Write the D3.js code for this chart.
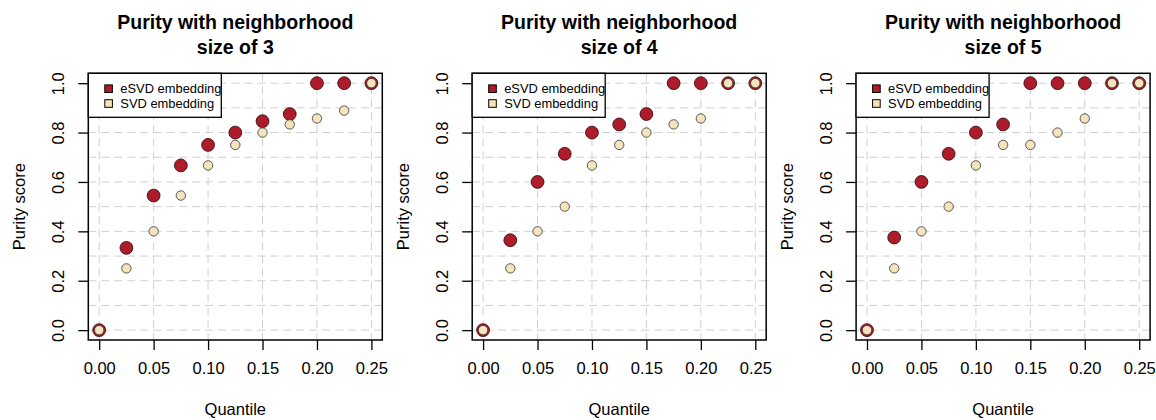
<!DOCTYPE html>
<html><head><meta charset="utf-8">
<script src="https://cdn.jsdelivr.net/npm/d3@7/dist/d3.min.js"></script>
<style>body{margin:0;background:#fff;} text{font-family:"Liberation Sans",Arial,Helvetica,sans-serif;}</style>
</head><body>
<svg id="c" width="1156" height="420"></svg>
<script>
const quantiles = [0, 0.025, 0.05, 0.075, 0.1, 0.125, 0.15, 0.175, 0.2, 0.225, 0.25];
const titles = ["size of 3", "size of 4", "size of 5"];
const esvd3 = [0, 0.333, 0.545, 0.667, 0.75, 0.8, 0.846, 0.875, 1, 1, 1];
const svd3  = [0, 0.25, 0.4, 0.545, 0.667, 0.75, 0.8, 0.833, 0.857, 0.889, 1];
const esvd4 = [0, 0.364, 0.6, 0.714, 0.8, 0.833, 0.875, 1, 1, 1, 1];
const svd4  = [0, 0.25, 0.4, 0.5, 0.667, 0.75, 0.8, 0.833, 0.857, 1, 1];
const esvd5 = [0, 0.375, 0.6, 0.714, 0.8, 0.833, 1, 1, 1, 1, 1];
const svd5  = [0, 0.25, 0.4, 0.5, 0.667, 0.75, 0.75, 0.8, 0.857, 1, 1];
const xTicks = [0, 0.05, 0.10, 0.15, 0.20, 0.25];
const yTicks = [0, 0.2, 0.4, 0.6, 0.8, 1.0];
const seriesNames = ["eSVD embedding", "SVD embedding"];
const colors = ["#ae1c2c", "#f3e4bb"];

const panels = [
  {sub: titles[0], e: esvd3, s: svd3},
  {sub: titles[1], e: esvd4, s: svd4},
  {sub: titles[2], e: esvd5, s: svd5}
];

const svg = d3.select("#c");
const boxW = 294, boxH = 266.7, boxTop = 73.3;
const pitch = 383.9, boxLeft0 = 88.3;

panels.forEach((p, i) => {
  const L = boxLeft0 + i * pitch, R = L + boxW, T = boxTop, B = T + boxH;
  const x = d3.scaleLinear().domain([-0.01, 0.26]).range([L, R]);
  const y = d3.scaleLinear().domain([-0.04, 1.04]).range([B, T]);
  const g = svg.append("g");

  // grid
  const gx = d3.range(0, 0.2501, 0.05);
  const gy = d3.range(0, 1.0001, 0.1);
  g.selectAll(".vg").data(gx).enter().append("line")
    .attr("x1", d => x(d)).attr("x2", d => x(d)).attr("y1", T).attr("y2", B)
    .attr("stroke", "#d0d0d0").attr("stroke-width", 1).attr("stroke-dasharray", "8,5");
  g.selectAll(".hg").data(gy).enter().append("line")
    .attr("x1", L).attr("x2", R).attr("y1", d => y(d)).attr("y2", d => y(d))
    .attr("stroke", "#d0d0d0").attr("stroke-width", 1).attr("stroke-dasharray", "8,5");

  // axes
  const xa = g.append("g").attr("transform", `translate(0,${B})`)
    .call(d3.axisBottom(x).tickValues(xTicks).tickFormat(d3.format(".2f")).tickSize(10).tickPadding(12));
  xa.select(".domain").remove();
  xa.selectAll("line").attr("stroke", "#000").attr("stroke-width", 1.3);
  xa.selectAll("text").attr("font-size", 16.5).attr("fill", "#000").attr("font-family", "Liberation Sans, Arial, sans-serif");

  const ya = g.append("g").attr("transform", `translate(${L},0)`)
    .call(d3.axisLeft(y).tickValues(yTicks).tickFormat(d3.format(".1f")).tickSize(10).tickPadding(0));
  ya.select(".domain").remove();
  ya.selectAll("line").attr("stroke", "#000").attr("stroke-width", 1.3);
  ya.selectAll("text").attr("font-size", 16.5).attr("fill", "#000")
    .attr("font-family", "Liberation Sans, Arial, sans-serif")
    .attr("text-anchor", "middle").attr("x", null)
    .attr("transform", "translate(-30,0) rotate(-90)").attr("dy", "0.35em");

  // box
  g.append("rect").attr("x", L).attr("y", T).attr("width", boxW).attr("height", boxH)
    .attr("fill", "none").attr("stroke", "#000").attr("stroke-width", 1.5);

  // points
  g.selectAll(".pe").data(quantiles.map((q, k) => [q, p.e[k]])).enter().append("circle")
    .attr("cx", d => x(d[0])).attr("cy", d => y(d[1])).attr("r", 6.4)
    .attr("fill", colors[0]).attr("stroke", "#3a1010").attr("stroke-width", 0.9);
  g.selectAll(".ps").data(quantiles.map((q, k) => [q, p.s[k]])).enter().append("circle")
    .attr("cx", d => x(d[0])).attr("cy", d => y(d[1])).attr("r", 4.7)
    .attr("fill", colors[1]).attr("stroke", "#333").attr("stroke-width", 0.8);

  // titles
  const cx = (L + R) / 2;
  g.append("text").attr("x", cx).attr("y", 28.5).attr("text-anchor", "middle")
    .attr("font-size", 19.5).attr("font-weight", "bold").text("Purity with neighborhood");
  g.append("text").attr("x", cx).attr("y", 53.5).attr("text-anchor", "middle")
    .attr("font-size", 19.5).attr("font-weight", "bold").text(p.sub);
  g.append("text").attr("x", cx).attr("y", 415).attr("text-anchor", "middle")
    .attr("font-size", 16.5).text("Quantile");
  g.append("text").attr("transform", `translate(${L - 69},${(T + B) / 2}) rotate(-90)`)
    .attr("text-anchor", "middle").attr("dy", "0.35em").attr("font-size", 16.5).text("Purity score");

  // legend
  const lg = g.append("g");
  lg.append("rect").attr("x", L).attr("y", T).attr("width", 133).attr("height", 44)
    .attr("fill", "#fff").attr("stroke", "#000").attr("stroke-width", 1.3);
  seriesNames.forEach((n, k) => {
    const yy = T + 15.4 + k * 14.8;
    lg.append("rect").attr("x", L + 16.5).attr("y", yy - 3.8).attr("width", 7.6).attr("height", 7.6)
      .attr("fill", colors[k]).attr("stroke", "#000").attr("stroke-width", 1);
    lg.append("text").attr("x", L + 32).attr("y", yy).attr("dy", "0.35em")
      .attr("font-size", 12.9).text(n);
  });
});
</script>
</body></html>
